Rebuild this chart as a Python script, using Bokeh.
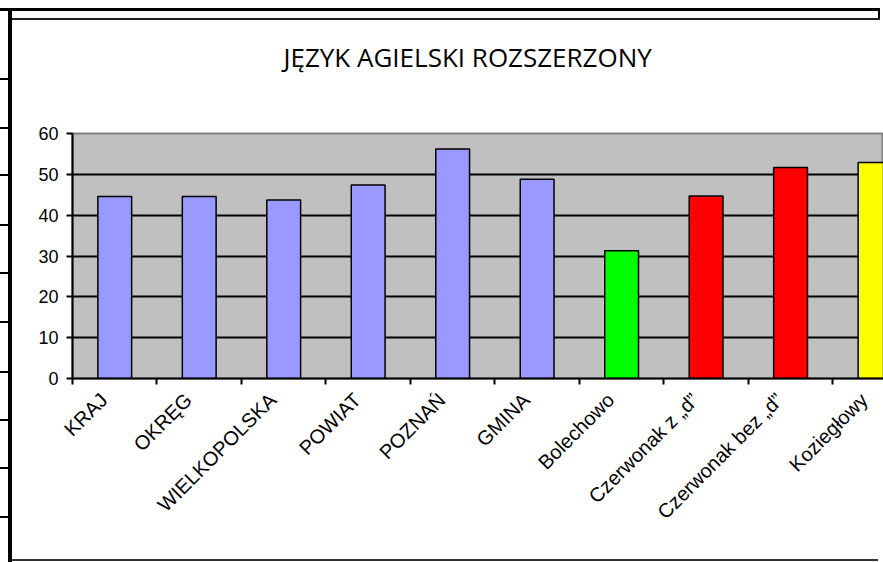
from math import pi
from bokeh.plotting import figure
from bokeh.models import Range1d, FixedTicker
from bokeh.embed import file_html
from bokeh.resources import INLINE

categories = ["KRAJ", "OKRĘG", "WIELKOPOLSKA", "POWIAT", "POZNAŃ", "GMINA",
              "Bolechowo", "Czerwonak z „d”", "Czerwonak bez „d”", "Koziegłowy"]
values = [44.6, 44.6, 43.7, 47.4, 56.2, 48.8, 31.3, 44.7, 51.7, 52.9]
colors = ["#9999FF", "#9999FF", "#9999FF", "#9999FF", "#9999FF", "#9999FF",
          "#00FF00", "#FF0000", "#FF0000", "#FFFF00"]
y_ticks = [0, 10, 20, 30, 40, 50, 60]
title_text = "JĘZYK AGIELSKI ROZSZERZONY"

centers = [i + 0.5 for i in range(len(categories))]
bounds = [float(i) for i in range(len(categories))]
label_shift = 0.13  # rotated labels sit slightly left of the bar centre
label_pos = [round(c - label_shift, 3) for c in centers]

W, H = 883, 562
p = figure(width=W, height=H, output_backend="svg", toolbar_location=None,
           x_range=Range1d(0, 9.6), y_range=Range1d(0, 60),
           min_border_left=72, min_border_right=0,
           min_border_top=133, min_border_bottom=184)

p.background_fill_color = "#C0C0C0"
p.border_fill_color = "white"
p.border_fill_alpha = 0
p.outline_line_color = "#808080"
p.outline_line_width = 2

# trailing newline lifts the single visible line higher above the plot
p.title.text = title_text + "\n"
p.title.align = "left"
p.title.offset = 211
p.title.standoff = 46
p.title.text_font = "Open Sans"
p.title.text_font_size = "26px"
p.title.text_font_style = "normal"
p.title.text_color = "black"

p.xgrid.visible = False
p.ygrid.ticker = FixedTicker(ticks=[10, 20, 30, 40, 50])
p.ygrid.grid_line_color = "black"
p.ygrid.grid_line_width = 2
p.ygrid.grid_line_alpha = 1

p.vbar(x=centers, top=values, width=0.4, bottom=0,
       fill_color=colors, line_color="black", line_width=1.5)

ya = p.yaxis[0]
ya.ticker = FixedTicker(ticks=y_ticks)
ya.axis_line_width = 2
ya.major_tick_line_width = 2
ya.major_tick_out = 6
ya.major_tick_in = 0
ya.minor_tick_line_color = None
ya.major_label_text_font = "Liberation Sans"
ya.major_label_text_font_size = "18px"
ya.major_label_text_color = "black"
ya.major_label_standoff = 8

xa = p.xaxis[0]
xa.ticker = FixedTicker(ticks=label_pos, minor_ticks=bounds)
xa.major_label_overrides = {c: lab for c, lab in zip(label_pos, categories)}
xa.major_tick_line_color = None
xa.major_tick_out = 0
xa.major_tick_in = 0
xa.minor_tick_line_color = "black"
xa.minor_tick_line_width = 2
xa.minor_tick_out = 6
xa.minor_tick_in = 0
xa.axis_line_width = 2
xa.major_label_orientation = pi / 4
xa.major_label_text_font = "Liberation Sans"
xa.major_label_text_font_size = "20px"
xa.major_label_text_color = "black"
xa.major_label_standoff = 12

# outer frame decoration drawn as CSS background behind the transparent border
frame_lines = [
    # (left, top, width, height, color)
    (0, 8, 880, 3, "#000"),
    (12, 18, 868, 2, "#222"),
    (878, 8, 2, 12, "#000"),
    (8, 8, 4, 554, "#000"),
    (12, 559, 866, 2, "#333"),
] + [(0, yy, 9, 2, "#000") for yy in (78, 127, 174, 224, 272, 321, 371, 419, 467, 516)]

p.styles = {
    "background-color": "white",
    "background-image": ", ".join(f"linear-gradient({c}, {c})" for _, _, _, _, c in frame_lines),
    "background-size": ", ".join(f"{w}px {h}px" for _, _, w, h, _ in frame_lines),
    "background-position": ", ".join(f"{l}px {t}px" for l, t, _, _, _ in frame_lines),
    "background-repeat": "no-repeat",
}

open("out.html", "w").write(file_html(p, INLINE))
